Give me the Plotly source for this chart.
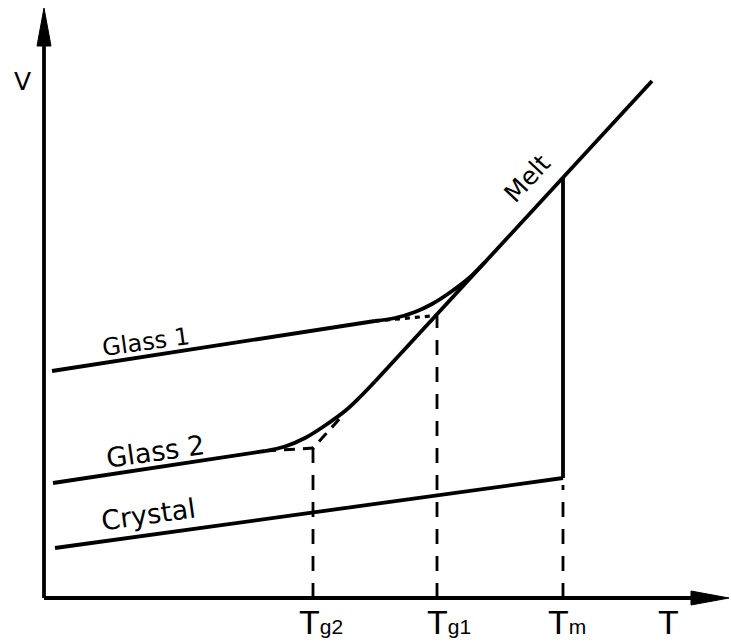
import plotly.graph_objects as go

# ---- data (arbitrary units) ----
T_g2 = 5.38
T_g1 = 7.86
T_m = 10.38

crystal_T = [0.22, T_m]
crystal_V = [1.00, 2.40]

melt_T = [6.62, 12.16]
melt_V = [4.33, 10.34]
melt_top_at_Tm = 8.40

glass1_T = [0.16, 6.62]
glass1_V = [4.54, 5.54]
glass1_curve_T = [6.62, 7.02, 7.42, 7.76, 8.12, 8.50, 8.82]
glass1_curve_V = [5.54, 5.60, 5.72, 5.88, 6.11, 6.40, 6.72]
glass1_ext_T = [6.62, T_g1]
glass1_ext_V = [5.54, 5.65]

glass2_T = [0.18, 4.42]
glass2_V = [2.30, 2.94]
glass2_curve_T = [4.42, 4.82, 5.22, 5.62, 6.02, 6.32, 6.62]
glass2_curve_V = [2.94, 3.03, 3.20, 3.45, 3.74, 4.02, 4.33]
glass2_ext_T = [4.42, T_g2, 6.00]
glass2_ext_V = [2.94, 3.00, 3.68]

Tg2_top = 3.00
Tg1_top = 5.65
Tm_dash_top = 2.26

labels_T = [T_g2, T_g1, T_m]
labels_main = ["T", "T", "T"]
labels_sub = ["g2", "g1", "m"]
labels_xshift = [8, 12, 4]

# axis extents
x_axis_end = 13.70
y_axis_end = 11.80
head_len = 0.76
head_half = 0.14

BLACK = "black"
LW = 3.8

fig = go.Figure()

def line(x, y, width=LW, dash=None, shape="linear"):
    fig.add_trace(go.Scatter(
        x=x, y=y, mode="lines",
        line=dict(color=BLACK, width=width, dash=dash, shape=shape),
        hoverinfo="skip", showlegend=False))

# axes
line([0, 0], [0, y_axis_end - head_len + 0.05], width=LW)
line([0, x_axis_end - head_len + 0.05], [0, 0], width=LW)
# arrowheads
fig.add_trace(go.Scatter(
    x=[-head_half, head_half, 0, -head_half],
    y=[y_axis_end - head_len, y_axis_end - head_len, y_axis_end, y_axis_end - head_len],
    fill="toself", fillcolor=BLACK, mode="lines", line=dict(color=BLACK, width=1),
    hoverinfo="skip", showlegend=False))
fig.add_trace(go.Scatter(
    x=[x_axis_end - head_len, x_axis_end - head_len, x_axis_end, x_axis_end - head_len],
    y=[-head_half, head_half, 0, -head_half],
    fill="toself", fillcolor=BLACK, mode="lines", line=dict(color=BLACK, width=1),
    hoverinfo="skip", showlegend=False))

# dashed construction lines
line([T_g2, T_g2], [0, Tg2_top], width=2.8, dash="15px,12px")
line([T_g1, T_g1], [0, Tg1_top], width=2.8, dash="15px,12px")
line([T_m, T_m], [0, Tm_dash_top], width=2.8, dash="15px,12px")
line(glass1_ext_T, glass1_ext_V, width=3.2, dash="5px,5px")
line(glass2_ext_T, glass2_ext_V, width=3.0, dash="11px,8px")

# solid curves
line(crystal_T, crystal_V)
line([T_m, T_m], [crystal_V[-1], melt_top_at_Tm])
line(melt_T, melt_V)
line(glass1_T, glass1_V)
line(glass1_curve_T, glass1_curve_V, shape="spline")
line(glass2_T, glass2_V)
line(glass2_curve_T, glass2_curve_V, shape="spline")

FONT = "DejaVu Sans, Liberation Sans, Arial"
ann = []
ann.append(dict(x=2.04, y=5.12, text="Glass 1", textangle=-8, font=dict(size=24)))
ann.append(dict(x=2.22, y=2.94, text="Glass 2", textangle=-8, font=dict(size=27)))
ann.append(dict(x=2.08, y=1.68, text="Crystal", textangle=-8, font=dict(size=27)))
ann.append(dict(x=9.66, y=8.40, text="Melt", textangle=-47, font=dict(size=25)))
ann.append(dict(x=-0.44, y=10.34, text="V", font=dict(size=25)))
ann.append(dict(x=12.48, y=-0.48, text="T", font=dict(size=34, family="Liberation Sans, Arial")))
for t, m, s, dx in zip(labels_T, labels_main, labels_sub, labels_xshift):
    ann.append(dict(x=t, y=-0.48, text=m + '<span style="font-size:21px">' + s + '</span>',
                    xshift=dx, font=dict(size=34, family="Liberation Sans, Arial")))
for a in ann:
    a.setdefault("showarrow", False)
    a.setdefault("xanchor", "center")
    a.setdefault("yanchor", "middle")
    f = a["font"]
    f.setdefault("family", FONT)
    f["color"] = BLACK
fig.update_layout(annotations=ann)

fig.update_layout(
    width=731, height=644,
    margin=dict(l=0, r=0, t=0, b=0),
    paper_bgcolor="white", plot_bgcolor="white",
    xaxis=dict(range=[-0.88, 13.74], visible=False, fixedrange=True),
    yaxis=dict(range=[-0.92, 11.96], visible=False, fixedrange=True),
)

fig.write_html("out.html", config={"displayModeBar": False},
               post_script="document.body.style.margin='0';document.body.style.overflow='hidden';")
